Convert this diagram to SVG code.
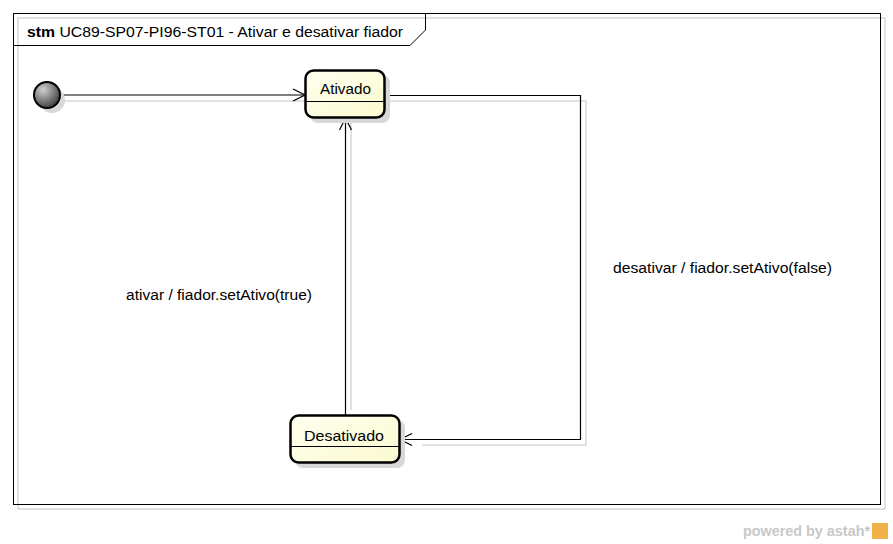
<svg xmlns="http://www.w3.org/2000/svg" width="893" height="544" viewBox="0 0 893 544">
<defs>
<style>
text{font-family:"Liberation Sans",Arial,sans-serif;font-size:15.5px;fill:#000}
.sh{fill:none;stroke:#d8d8d8;stroke-width:1.5}
.ln{fill:none;stroke:#000;stroke-width:1.2}
.st{fill:url(#g);stroke:#000;stroke-width:2.5}
</style>
<linearGradient id="g" x1="0" y1="0" x2="1" y2="1">
<stop offset="0" stop-color="#fffff0"/><stop offset="1" stop-color="#fafad0"/>
</linearGradient>
<radialGradient id="ig" cx="0.35" cy="0.3" r="0.8">
<stop offset="0" stop-color="#d0d0d0"/><stop offset="1" stop-color="#333"/>
</radialGradient>
<marker id="arr" markerWidth="14" markerHeight="14" refX="13" refY="7" orient="auto" markerUnits="userSpaceOnUse">
<path d="M1,1 L13,7 L1,13" fill="none" stroke="#000" stroke-width="1.2"/>
</marker>
</defs>
<rect width="893" height="544" fill="#fff"/>
<g id="frame">
<rect x="18" y="18" width="867" height="491" class="sh"/>
<rect x="13.5" y="13.5" width="867" height="491" fill="none" stroke="#000" stroke-width="1"/>
<path d="M13.5,45.5 H410 L425.5,30 V13.5" fill="none" stroke="#000" stroke-width="1"/>
<text x="27" y="37" textLength="376" lengthAdjust="spacingAndGlyphs"><tspan font-weight="bold">stm</tspan> UC89-SP07-PI96-ST01 - Ativar e desativar fiador</text>
</g>
<g id="connectors">
<path class="sh" d="M62,101 H305"/>
<path class="sh" d="M390,101 H586 V445 H422"/>
<path class="sh" d="M351,410 V123"/>
<path class="ln" d="M60,95 H305" marker-end="url(#arr)"/>
<path class="ln" d="M385,95.5 H580.5 V439.5 H400" marker-end="url(#arr)"/>
<path class="ln" d="M345.5,415 V118" marker-end="url(#arr)"/>
<text x="126" y="300" textLength="186" lengthAdjust="spacingAndGlyphs">ativar / fiador.setAtivo(true)</text>
<text x="613" y="273" textLength="219" lengthAdjust="spacingAndGlyphs">desativar / fiador.setAtivo(false)</text>
</g>
<g id="initial">
<circle cx="52" cy="100" r="13" fill="#d8d8d8"/>
<circle cx="47" cy="95" r="13" fill="url(#ig)" stroke="#000" stroke-width="2"/>
</g>
<g id="ativado">
<rect x="310" y="75" width="80" height="48" rx="8" fill="#d8d8d8"/>
<rect x="305.5" y="70.5" width="79" height="47" rx="8" class="st"/>
<line x1="306" y1="101.5" x2="384" y2="101.5" stroke="#000" stroke-width="1"/>
<text x="320" y="94" textLength="51" lengthAdjust="spacingAndGlyphs">Ativado</text>
</g>
<g id="desativado">
<rect x="295" y="420" width="110" height="48" rx="8" fill="#d8d8d8"/>
<rect x="290.5" y="415.5" width="109" height="47" rx="8" class="st"/>
<line x1="291" y1="446.5" x2="399" y2="446.5" stroke="#000" stroke-width="1"/>
<text x="304" y="441" textLength="80" lengthAdjust="spacingAndGlyphs">Desativado</text>
</g>
<g id="watermark">
<text x="743" y="536" font-weight="bold" style="fill:#c8c8c8;font-size:14px" textLength="127" lengthAdjust="spacingAndGlyphs">powered by astah*</text>
<rect x="872" y="523" width="16" height="16" fill="#f2b24a"/>
</g>
</svg>
